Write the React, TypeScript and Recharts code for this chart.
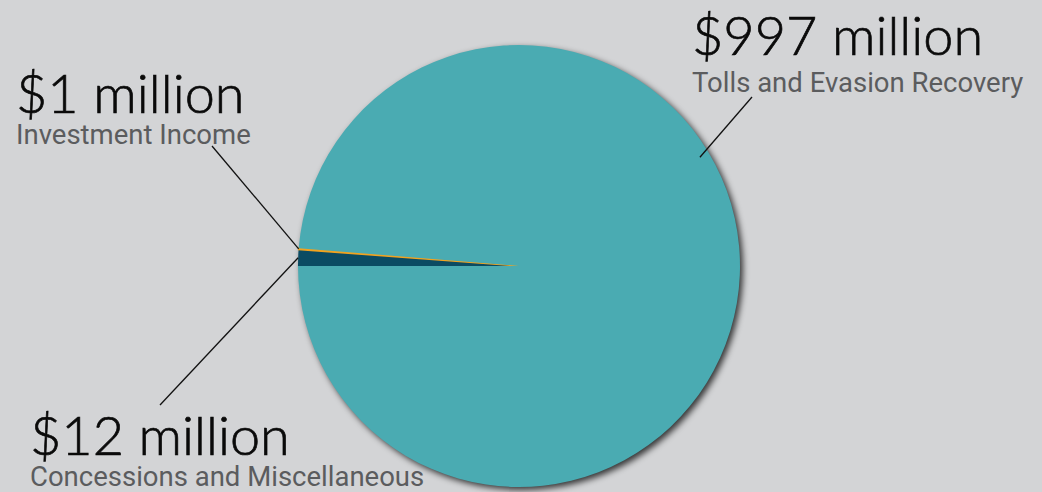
import React from 'react';
import { PieChart, Pie, Cell, Sector } from 'recharts';

// slices, in drawing order starting at 9 o'clock going clockwise
const categories = ['Concessions and Miscellaneous', 'Investment Income', 'Tolls and Evasion Recovery'];
const amounts = [12, 1, 997];
const amountLabels = ['$12 million', '$1 million', '$997 million'];
const sliceColors = ['#0b4b63', '#f2a31f', '#4aabb2'];

const data = categories.map((name, i) => ({ name, value: amounts[i], label: amountLabels[i] }));
const total = amounts.reduce((a, b) => a + b, 0);
const shadowData = [{ name: 'shadow', value: total }];

// where each label block sits and where its leader line starts
const labelLayout = [
    { x: 30, titleY: 455, subY: 486, lx: 160, ly: 405, anchorAngle: null as number | null, anchorR: 1 },
    { x: 16, titleY: 113, subY: 144, lx: 212, ly: 146, anchorAngle: null as number | null, anchorR: 1 },
    { x: 692, titleY: 55, subY: 92, lx: 752, ly: 97, anchorAngle: 31, anchorR: 0.955 },
];

const RAD = Math.PI / 180;

const renderLabel = (props: any) => {
    const { cx, cy, midAngle, outerRadius, index } = props;
    const lay = labelLayout[index];
    const ang = lay.anchorAngle ?? midAngle;
    const r = outerRadius * lay.anchorR;
    const px = cx + r * Math.cos(-ang * RAD);
    const py = cy + r * Math.sin(-ang * RAD);
    const d = data[index];
    return (
        <g key={`lbl-${index}`}>
            <line x1={lay.lx} y1={lay.ly} x2={px} y2={py} stroke="#111" strokeWidth={1.3} />
            <text
                x={lay.x}
                y={lay.titleY}
                fill="#0a0a0a"
                stroke="#0a0a0a"
                strokeWidth={0.7}
                fontSize={54}
                fontWeight={300}
                fontFamily="Lato, sans-serif"
            >
                {d.label}
            </text>
            <text x={lay.x} y={lay.subY} fill="#5b5c5e" fontSize={27.5} fontFamily="Roboto, sans-serif">
                {d.name}
            </text>
        </g>
    );
};

const ShadowShape = (props: any) => (
    <Sector {...props} fill="rgba(0,0,0,0.75)" style={{ filter: 'blur(3px)' }} />
);

export default function App() {
    return (
        <div style={{ position: 'absolute', left: 0, top: 0, width: 1042, height: 492, background: '#d3d4d6' }}>
            <PieChart width={1042} height={492} margin={{ top: 0, right: 0, bottom: 0, left: 0 }}>
                <Pie
                    data={shadowData}
                    dataKey="value"
                    cx={522}
                    cy={269}
                    outerRadius={221}
                    startAngle={180}
                    endAngle={-180}
                    stroke="none"
                    shape={ShadowShape}
                    isAnimationActive={false}
                />
                <Pie
                    data={data}
                    dataKey="value"
                    cx={519}
                    cy={266}
                    outerRadius={221}
                    startAngle={180}
                    endAngle={-180}
                    stroke="none"
                    label={renderLabel}
                    labelLine={false}
                    isAnimationActive={false}
                >
                    {data.map((d, i) => (
                        <Cell
                            key={d.name}
                            fill={sliceColors[i]}
                            stroke={i === 1 ? sliceColors[i] : 'none'}
                            strokeWidth={i === 1 ? 1.5 : 0}
                        />
                    ))}
                </Pie>
            </PieChart>
        </div>
    );
}
